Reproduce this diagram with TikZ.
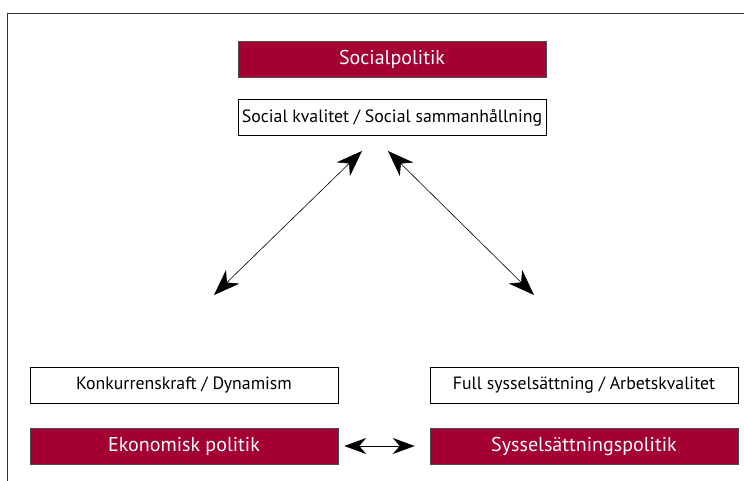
\documentclass[tikz,border=0pt]{standalone}
\usepackage{fontspec}
\setmainfont{PT Sans}
\usetikzlibrary{arrows.meta}
\definecolor{crimson}{HTML}{A50034}
\tikzset{
  redbox/.style={draw=black!70, line width=0.5pt, fill=crimson, text=white, minimum width=308pt, minimum height=36pt, inner sep=0pt, font=\fontsize{20}{24}\selectfont},
  whitebox/.style={draw=black, line width=0.5pt, fill=white, minimum width=308pt, minimum height=36pt, inner sep=0pt, font=\fontsize{17.8}{21}\selectfont},
  biarrow/.style={line width=0.6pt, {Stealth[length=26pt,width=19pt,inset=8pt]}-{Stealth[length=26pt,width=19pt,inset=8pt]}},
  harrow/.style={line width=0.8pt, {Stealth[length=22pt,width=16pt,inset=7pt]}-{Stealth[length=22pt,width=16pt,inset=7pt]}}
}
\begin{document}
\begin{tikzpicture}[x=1pt,y=-1pt]
\useasboundingbox (0,0) rectangle (744,481);
\draw[line width=0.6pt, black!80] (7,481) -- (7,13) -- (744,13);
\node[redbox] (sp) at (392,59) {Socialpolitik};
\node[whitebox] (sk) at (392,117.5) {Social kvalitet / Social sammanhållning};
\node[whitebox] (kk) at (184,385) {Konkurrenskraft / Dynamism};
\node[whitebox] (fs) at (584,385) {Full sysselsättning / Arbetskvalitet};
\node[redbox] (ep) at (184,446) {Ekonomisk politik};
\node[redbox] (ssp) at (584,446) {Sysselsättningspolitik};
\coordinate (la) at (362,151);
\coordinate (lb) at (214,295);
\coordinate (ra) at (388,151);
\coordinate (rb) at (534,295);
\draw[biarrow] (la) -- (lb);
\draw[biarrow] (ra) -- (rb);
\draw[harrow] ([xshift=6pt]ep.east) -- ([xshift=-15pt]ssp.west);
\end{tikzpicture}
\end{document}
